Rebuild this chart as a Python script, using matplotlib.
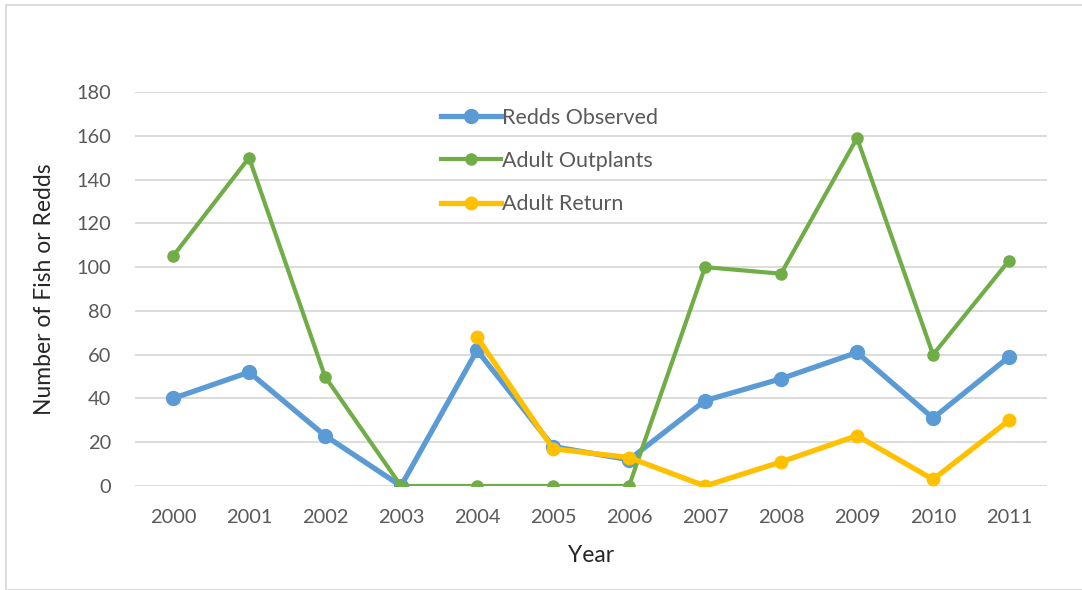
import numpy as np
import matplotlib
matplotlib.use("Agg")
import matplotlib.pyplot as plt
from matplotlib.patches import Rectangle

years = ['2000', '2001', '2002', '2003', '2004', '2005',
         '2006', '2007', '2008', '2009', '2010', '2011']
redds = [40, 52, 23, 0, 62, 18, 12, 39, 49, 61, 31, 59]
outplants = [105, 150, 50, 0, 0, 0, 0, 100, 97, 159, 60, 103]
returns = [np.nan, np.nan, np.nan, np.nan, 68, 17, 13, 0, 11, 23, 3, 30]

plt.rcParams['font.family'] = ['Lato', 'DejaVu Sans']
txt = '#595959'

fig = plt.figure(figsize=(10.82, 5.90), dpi=100)
ax = fig.add_axes([0.1248, 0.1763, 0.8429, 0.6677])

# outer chart border like the excel chart area
fig.patches.append(Rectangle((6 / 1082, 0.0), 1.2, 1 - 5 / 590, transform=fig.transFigure,
                             fill=False, edgecolor='#D9D9D9', linewidth=1.3))

x = np.arange(len(years))
ax.plot(x, redds, color='#5B9BD5', lw=3.8, marker='o', ms=10, label='Redds Observed', zorder=3)
ax.plot(x, outplants, color='#70AD47', lw=3.0, marker='o', ms=8, label='Adult Outplants', zorder=4)
ax.plot(x, returns, color='#FFC000', lw=3.8, marker='o', ms=9, label='Adult Return', zorder=5)

ax.set_xlim(-0.5, len(years) - 0.5)
ax.set_ylim(0, 180)
ax.set_yticks(np.arange(0, 181, 20))
ax.set_xticks(x)
ax.set_xticklabels(years)
ax.grid(axis='y', color='#D9D9D9', lw=1.3, zorder=0)
ax.set_axisbelow(True)
for s in ax.spines.values():
    s.set_visible(False)
ax.tick_params(length=0, labelsize=14.4, labelcolor=txt)
ax.tick_params(axis='x', pad=16.5)
ax.tick_params(axis='y', pad=17)

ax.set_xlabel('Year', fontsize=16.5, color='#262626')
ax.set_ylabel('Number of Fish or Redds', fontsize=16.5, color='#262626')
ax.xaxis.set_label_coords(0.5, -0.15)
ax.yaxis.set_label_coords(-0.088, 0.5)

leg = fig.legend(loc='center left', bbox_to_anchor=(430 / 1082, 1 - 161 / 590),
                 frameon=False, fontsize=15.5, handlelength=2.8, handletextpad=0.03,
                 labelspacing=1.09, borderpad=0)
for t in leg.get_texts():
    t.set_color(txt)

fig.savefig('out.png', dpi=100)
